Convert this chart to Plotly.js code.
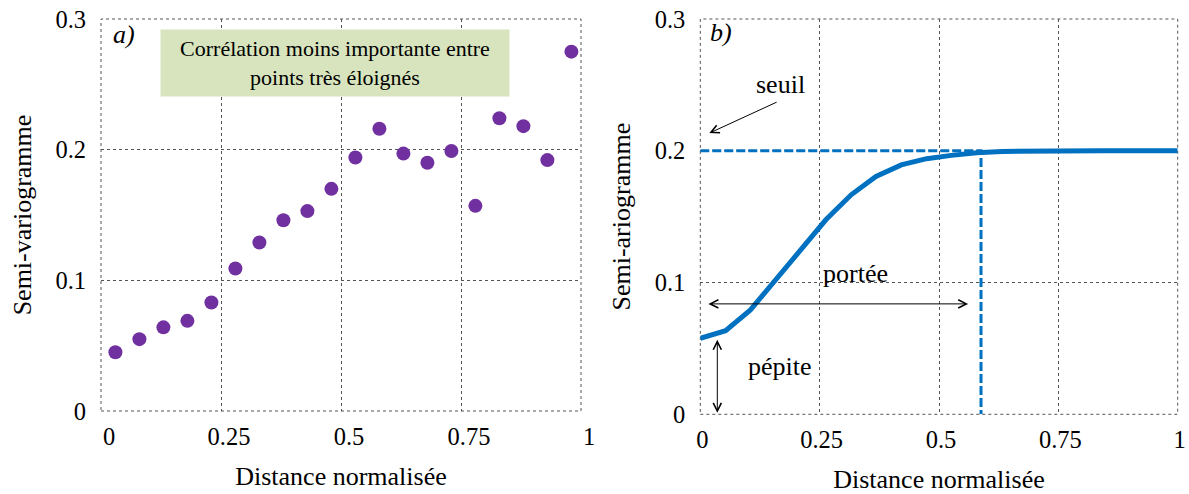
<!DOCTYPE html>
<html>
<head>
<meta charset="utf-8">
<script src="https://cdn.plot.ly/plotly-3.0.1.min.js"></script>
<style>html,body{margin:0;padding:0;background:#fff;}#chart{width:1189px;height:494px;}</style>
</head>
<body>
<div id="chart"></div>
<script>
// Panel a) experimental semi-variogram
const distA = [0.03, 0.08, 0.13, 0.18, 0.23, 0.28, 0.33, 0.38, 0.43, 0.48, 0.53, 0.58, 0.63, 0.68, 0.73, 0.78, 0.83, 0.88, 0.93, 0.98];
const gammaA = [0.045, 0.055, 0.064, 0.069, 0.083, 0.109, 0.129, 0.146, 0.153, 0.170, 0.194, 0.216, 0.197, 0.190, 0.199, 0.157, 0.224, 0.218, 0.192, 0.275];

// Panel b) model semi-variogram
const distB = [0, 0.053, 0.105, 0.158, 0.211, 0.263, 0.316, 0.368, 0.421, 0.474, 0.526, 0.579, 0.632, 0.684, 0.737, 0.789, 0.842, 0.895, 0.947, 1.0];
const gammaB = [0.0577, 0.0635, 0.0792, 0.102, 0.1248, 0.1476, 0.1666, 0.1805, 0.1893, 0.1940, 0.1965, 0.1985, 0.1995, 0.1998, 0.2, 0.2, 0.2, 0.2, 0.2, 0.2];
const seuil = 0.2;
const portee = 0.588;
const pepite = 0.0565;

const xTicks = [0, 0.25, 0.5, 0.75, 1];
const xTickText = ['0', '0.25', '0.5', '0.75', '1'];
const yTicks = [0, 0.1, 0.2, 0.3];
const yTickText = ['0', '0.1', '0.2', '0.3'];

const FONT = 'Liberation Serif, Times New Roman, serif';
const blue = '#0070c0';
const gridCol = '#555';

const traces = [
  {x: distA, y: gammaA, type: 'scatter', mode: 'markers', xaxis: 'x', yaxis: 'y',
   marker: {color: '#7030a0', size: 14}, hoverinfo: 'skip'},
  {x: [0, portee, portee], y: [seuil, seuil, 0], type: 'scatter', mode: 'lines', xaxis: 'x2', yaxis: 'y2',
   line: {color: blue, width: 3, dash: '9px,3px'}, hoverinfo: 'skip'},
  {x: distB, y: gammaB, type: 'scatter', mode: 'lines', xaxis: 'x2', yaxis: 'y2',
   line: {color: blue, width: 5}, hoverinfo: 'skip', cliponaxis: false}
];

function xa(domain, shift) {
  return {domain: domain, range: [0, 1], tickvals: xTicks, ticktext: xTickText,
    showgrid: true, gridcolor: gridCol, griddash: 'dot', gridwidth: 1, zeroline: false, showline: false,
    ticks: '', ticklabelstandoff: 8, ticklabelshift: shift, ticklabeloverflow: 'allow',
    tickfont: {family: FONT, size: 24.5, color: '#000'},
    title: {text: 'Distance normalisée', font: {family: FONT, size: 26, color: '#000'}, standoff: 18},
    automargin: false, fixedrange: true};
}
function ya(domain, title) {
  return {domain: domain, range: [0, 0.3], tickvals: yTicks, ticktext: yTickText,
    showgrid: true, gridcolor: gridCol, griddash: 'dot', gridwidth: 1, zeroline: false, showline: false,
    ticks: '', ticklabelstandoff: 14, ticklabeloverflow: 'allow', tickfont: {family: FONT, size: 24.5, color: '#000'},
    title: {text: title, font: {family: FONT, size: 26, color: '#000'}, standoff: 16},
    automargin: false, fixedrange: true};
}
function frame(xr, yr) {
  return {type: 'rect', xref: xr + ' domain', yref: yr + ' domain', x0: 0, x1: 1, y0: 0, y1: 1,
    line: {color: gridCol, width: 1, dash: 'dot'}, layer: 'below'};
}

const tf = {family: FONT, size: 26, color: '#000'};
const layout = {
  width: 1189, height: 494,
  margin: {l: 0, r: 0, t: 0, b: 0},
  paper_bgcolor: '#fff', plot_bgcolor: '#fff',
  showlegend: false,
  xaxis: xa([101/1189, 581/1189], 8),
  yaxis: Object.assign(ya([83/494, 475/494], 'Semi-variogramme'), {anchor: 'x'}),
  xaxis2: Object.assign(xa([700.3/1189, 1177.7/1189], 2), {anchor: 'y2'}),
  yaxis2: Object.assign(ya([79.7/494, 475/494], 'Semi-ariogramme'), {anchor: 'x2'}),
  shapes: [frame('x', 'y'), frame('x2', 'y2')],
  annotations: [
    {xref: 'x', yref: 'y', x: 0.048, y: 0.2878, text: '<i>a)</i>', showarrow: false, font: tf},
    {xref: 'x', yref: 'y', x: 0.4875, y: 0.2664, text: 'Corrélation moins importante entre<br>points très éloignés',
     showarrow: false, font: {family: FONT, size: 22, color: '#000'}, bgcolor: '#d7e4bd',
     width: 348, height: 66, borderpad: 0, align: 'center'},
    {xref: 'x2', yref: 'y2', x: 0.0434, y: 0.2896, text: '<i>b)</i>', showarrow: false, font: tf},
    {xref: 'x2', yref: 'y2', x: 0.167, y: 0.2501, text: 'seuil', showarrow: false, font: tf},
    {xref: 'x2', yref: 'y2', x: 0.019, y: 0.2134, ax: 0.163, ay: 0.2374, axref: 'x2', ayref: 'y2',
     text: '', showarrow: true, arrowhead: 5, arrowsize: 1.6, arrowwidth: 1, arrowcolor: '#000'},
    {xref: 'x2', yref: 'y2', x: 0.3255, y: 0.1066, text: 'portée', showarrow: false, font: tf},
    {xref: 'x2', yref: 'y2', x: 0.561, y: 0.0838, ax: 0.014, ay: 0.0838, axref: 'x2', ayref: 'y2',
     text: '', showarrow: true, arrowhead: 5, startarrowhead: 5, arrowside: 'end+start', arrowsize: 1.6, startarrowsize: 1.6,
     arrowwidth: 1, arrowcolor: '#000'},
    {xref: 'x2', yref: 'y2', x: 0.167, y: 0.0362, text: 'pépite', showarrow: false, font: tf},
    {xref: 'x2', yref: 'y2', x: 0.0356, y: pepite, ax: 0.0356, ay: 0, axref: 'x2', ayref: 'y2',
     text: '', showarrow: true, arrowhead: 5, startarrowhead: 5, arrowside: 'end+start', arrowsize: 1.6, startarrowsize: 1.6,
     arrowwidth: 1, arrowcolor: '#000'}
  ]
};

Plotly.newPlot('chart', traces, layout, {displayModeBar: false, staticPlot: true});
</script>
</body>
</html>
